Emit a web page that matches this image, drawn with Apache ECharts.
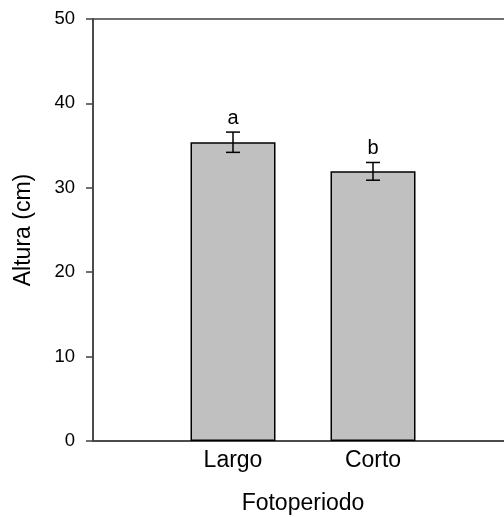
<!DOCTYPE html>
<html>
<head>
<meta charset="utf-8">
<script src="https://cdn.jsdelivr.net/npm/echarts@6/dist/echarts.min.js"></script>
<style>html,body{margin:0;padding:0;background:#fff;}#c{width:504px;height:517px;}</style>
</head>
<body>
<div id="c"></div>
<script>
var categories = ['', 'Largo', 'Corto', ''];
var means = [null, 35.4, 31.95, null];
var errors = [null, 1.2, 1.05, null];
var letters = [null, 'a', 'b', null];
var yTicks = [0, 10, 20, 30, 40, 50];

var chart = echarts.init(document.getElementById('c'));
var F = 'Liberation Sans, Arial, sans-serif';
var errData = [];
for (var i = 0; i < categories.length; i++) {
  if (means[i] != null) errData.push([i, means[i], errors[i], letters[i]]);
}
chart.setOption({
  animation: false,
  grid: { left: 93, top: 19, width: 420, height: 422, show: true, borderColor: '#404040', borderWidth: 1.5, backgroundColor: 'transparent', containLabel: false, outerBoundsMode: 'none' },
  xAxis: {
    type: 'category', data: categories, boundaryGap: false,
    name: 'Fotoperiodo', nameLocation: 'middle', nameGap: 51,
    nameTextStyle: { fontFamily: F, fontSize: 23, color: '#000' },
    axisLine: { lineStyle: { color: '#404040', width: 1.5 } },
    axisTick: { show: false },
    axisLabel: { fontFamily: F, fontSize: 23, color: '#000', margin: 8 },
    splitLine: { show: false }
  },
  yAxis: {
    type: 'value', min: yTicks[0], max: yTicks[yTicks.length - 1], interval: 10,
    name: 'Altura (cm)', nameLocation: 'middle', nameGap: 58,
    nameTextStyle: { fontFamily: F, fontSize: 23, color: '#000' },
    axisLine: { show: true, lineStyle: { color: '#404040', width: 1.5 } },
    axisTick: { show: true, length: 7, lineStyle: { color: '#404040', width: 1.5 } },
    axisLabel: { fontFamily: F, fontSize: 18.5, color: '#000', margin: 18 },
    splitLine: { show: false }
  },
  series: [
    {
      type: 'bar', data: means, barWidth: 85,
      itemStyle: { color: '#c0c0c0', borderColor: '#000', borderWidth: 1.5 }
    },
    {
      type: 'custom', data: errData, z: 10,
      renderItem: function (params, api) {
        var x = api.value(0), m = api.value(1), e = api.value(2);
        var top = api.coord([x, m + e]);
        var bot = api.coord([x, m - e]);
        var hw = 7;
        var s = { stroke: '#000', lineWidth: 1.5 };
        var letter = errData[params.dataIndex][3];
        return {
          type: 'group',
          children: [
            { type: 'line', shape: { x1: top[0], y1: top[1], x2: bot[0], y2: bot[1] }, style: s },
            { type: 'line', shape: { x1: top[0] - hw, y1: top[1], x2: top[0] + hw, y2: top[1] }, style: s },
            { type: 'line', shape: { x1: bot[0] - hw, y1: bot[1], x2: bot[0] + hw, y2: bot[1] }, style: s },
            { type: 'text', x: top[0], y: top[1] - 14, style: { text: letter, fontFamily: F, fontSize: 20, fill: '#000', align: 'center', verticalAlign: 'middle' } }
          ]
        };
      }
    }
  ]
});
</script>
</body>
</html>
